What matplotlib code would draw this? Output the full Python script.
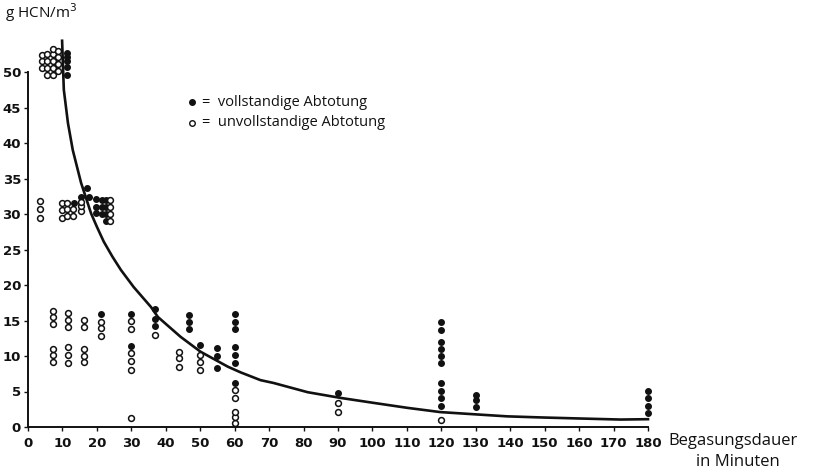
import matplotlib
matplotlib.use("Agg")
import matplotlib.pyplot as plt

# fitted curve
curve_x = [9.9, 10.4, 11.6, 13.0, 15.4, 18.3, 20.0, 22.0, 24.5, 27.0, 30.7, 35.7, 37.7, 44.3, 50.1,
           58.0, 61.7, 67.5, 71.3, 81.2, 90.7, 100.3, 110.1, 119.7, 129.3, 139.1, 148.7, 160.0,
           172.0, 180.0]
curve_y = [54.4, 47.5, 42.8, 39.0, 34.4, 30.1, 28.2, 26.1, 24.0, 22.1, 19.7, 16.9, 15.5, 12.7, 10.6,
           8.5, 7.7, 6.6, 6.2, 4.9, 4.1, 3.4, 2.7, 2.1, 1.8, 1.5, 1.35, 1.2,
           1.05, 1.1]

# vollstandige Abtotung (filled) - one entry per column of dots
full_cols_x = [11.3, 13.3, 15.5, 17.1, 17.7, 19.7, 21.4, 22.6,
               21.2, 30, 37, 46.7, 50, 55, 60, 90, 120, 130, 180]
full_cols_y = [[49.6, 50.7, 51.5, 52.1, 52.7], [31.6], [32.4], [33.7], [32.4],
               [30.1, 31.0, 32.1], [30.0, 31.0, 32.0], [29.0, 30.0, 31.0, 32.0],
               [15.9], [11.4, 15.9], [14.2, 15.2, 16.6], [13.8, 14.8, 15.8], [11.5],
               [8.3, 10.0, 11.1], [6.2, 9.0, 10.1, 11.3, 13.8, 14.8, 15.9], [4.8],
               [3.0, 4.1, 5.1, 6.2, 9.0, 10.0, 11.0, 12.0, 13.7, 14.8],
               [2.8, 3.8, 4.5], [2.0, 3.0, 4.1, 5.1]]

# unvollstandige Abtotung (open)
open_cols_x = [4.0, 5.5, 7.2, 8.6, 3.5, 10.0, 11.4, 13.0, 15.5, 23.7,
               7.2, 11.6, 16.2, 21.2, 30, 37, 43.8, 50, 60, 90, 120]
open_cols_y = [[50.6, 51.5, 52.4], [49.6, 50.6, 51.6, 52.6], [49.6, 50.6, 51.6, 52.6, 53.3],
               [50.1, 51.1, 52.1, 53.0], [29.5, 30.7, 31.8], [29.5, 30.5, 31.5],
               [29.7, 30.7, 31.5], [29.7, 30.7], [30.4, 31.1, 31.7], [29.0, 30.0, 31.0, 32.0],
               [9.1, 10.1, 11.0, 14.5, 15.5, 16.4], [9.0, 10.1, 11.3, 14.1, 15.1, 16.0],
               [9.1, 10.0, 11.0, 14.1, 15.1], [12.8, 13.9, 14.8],
               [1.3, 8.0, 9.3, 10.4, 13.8, 14.9], [13.0], [8.4, 9.7, 10.6],
               [8.0, 9.1, 10.2], [0.6, 1.4, 2.1, 4.1, 5.2], [2.1, 3.4], [1.0]]

x_ticks = list(range(0, 190, 10))
y_ticks = list(range(0, 55, 5))


def expand(cols_x, cols_y):
    xs, ys = [], []
    for x, col in zip(cols_x, cols_y):
        xs += [x] * len(col)
        ys += col
    return xs, ys


def main():
    W, H = 815, 476
    fig = plt.figure(figsize=(W / 100, H / 100), dpi=100)
    ax = fig.add_axes([28 / W, (H - 427) / H, 620 / W, (427 - 36.5) / H])
    ax.set_xlim(0, 180)
    ax.set_ylim(0, 55)

    ink = "#111111"
    ax.plot(curve_x, curve_y, color=ink, lw=1.9, clip_on=False)

    fx, fy = expand(full_cols_x, full_cols_y)
    ox, oy = expand(open_cols_x, open_cols_y)
    ax.plot(fx, fy, "o", ms=4.0, color=ink, clip_on=False)
    ax.plot(ox, oy, "o", ms=4.2, mfc="white", mec=ink, mew=1.1, clip_on=False)

    for s in ["top", "right"]:
        ax.spines[s].set_visible(False)
    ax.spines["left"].set_bounds(0, 50)
    ax.spines["bottom"].set_bounds(0, 180)
    for s in ["left", "bottom"]:
        ax.spines[s].set_color(ink)
        ax.spines[s].set_linewidth(1.4)

    tick_font = dict(family=["Liberation Sans Narrow", "DejaVu Sans"], weight="bold", size=9.5)
    ax.set_xticks(x_ticks)
    ax.set_xticklabels([str(t) for t in x_ticks], **tick_font)
    ax.set_yticks(y_ticks)
    ax.set_yticklabels([str(t) for t in y_ticks], **tick_font)
    ax.tick_params(colors=ink, length=3, width=1, pad=4)
    ax.tick_params(axis="y", pad=2)

    txt = dict(family=["Open Sans", "DejaVu Sans"], color=ink)
    fig.text(5 / W, 1 - 13 / H, "g HCN/m$^3$", ha="left", va="center", size=11, **txt)
    fig.text(668 / W, 1 - 441 / H, "Begasungsdauer", ha="left", va="center", size=12, **txt)
    fig.text(738 / W, 1 - 462 / H, "in Minuten", ha="center", va="center", size=12, **txt)

    # legend
    fig.lines.append(plt.Line2D([192 / W], [1 - 102 / H], marker="o", ms=4.0, color=ink,
                                transform=fig.transFigure))
    fig.lines.append(plt.Line2D([192 / W], [1 - 123 / H], marker="o", ms=4.0, mfc="white",
                                mec=ink, transform=fig.transFigure))
    fig.text(202 / W, 1 - 102 / H, "=  vollstandige Abtotung", ha="left", va="center",
             size=10.5, **txt)
    fig.text(202 / W, 1 - 123 / H, "=  unvollstandige Abtotung", ha="left", va="center",
             size=10.5, **txt)

    fig.savefig("out.png", dpi=100, facecolor="white")


if __name__ == "__main__":
    main()
